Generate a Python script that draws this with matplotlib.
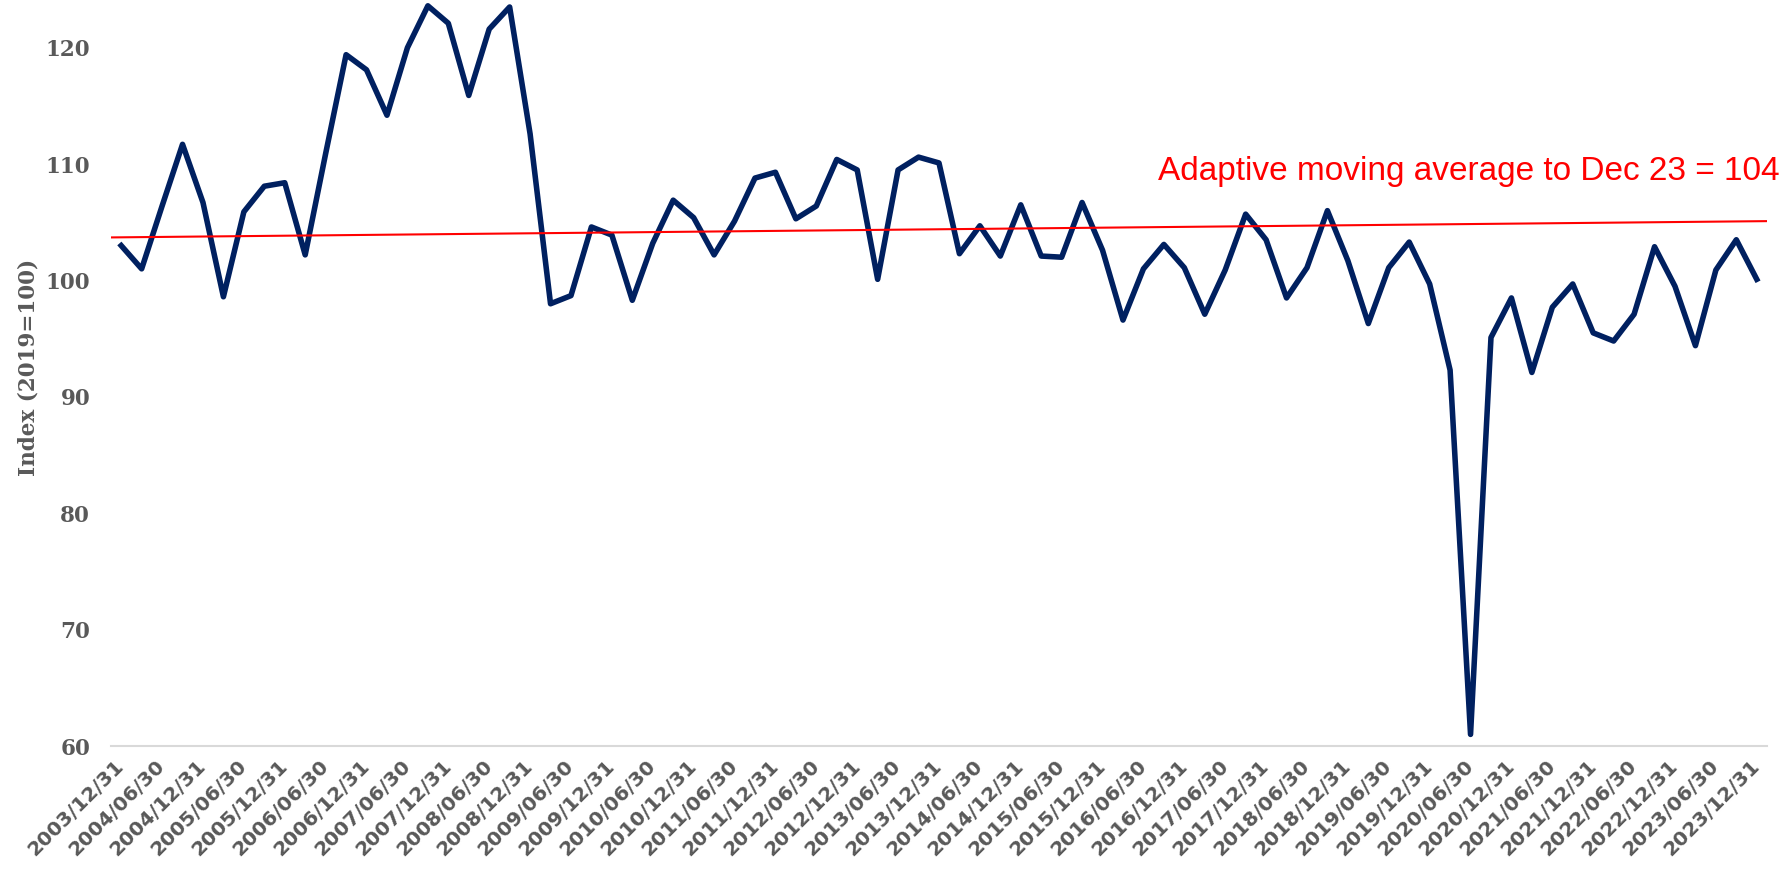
import matplotlib
matplotlib.use("Agg")
import matplotlib.pyplot as plt
import pandas as pd

# quarterly index, 2003Q4 .. 2023Q4 (2019=100)
quarters = pd.date_range("2003-12-31", "2023-12-31", freq="QE")
index_values = [
    103.0, 101.0, 106.4, 111.7, 106.7, 98.6, 105.9, 108.1, 108.4, 102.2,
    110.9, 119.4, 118.1, 114.2, 120.0, 123.6, 122.1, 115.9, 121.6, 123.5,
    112.6, 98.0, 98.7, 104.6, 103.9, 98.3, 103.2, 106.9, 105.4, 102.2,
    105.1, 108.8, 109.3, 105.3, 106.4, 110.4, 109.5, 100.1, 109.5, 110.6,
    110.1, 102.3, 104.7, 102.1, 106.5, 102.1, 102.0, 106.7, 102.6, 96.6,
    101.0, 103.1, 101.1, 97.1, 100.9, 105.7, 103.5, 98.5, 101.1, 106.0,
    101.7, 96.3, 101.1, 103.3, 99.7, 92.3, 61.0, 95.1, 98.5, 92.1,
    97.7, 99.7, 95.5, 94.8, 97.1, 102.9, 99.5, 94.4, 100.9, 103.5,
    100.1,
]
ama_start, ama_end = 103.7, 105.1
ama_text = "Adaptive moving average to Dec 23 = 104"

yticks = [60, 70, 80, 90, 100, 110, 120]

navy = "#002060"
grey = "#595959"

fig = plt.figure(figsize=(17.87, 8.75), dpi=100)
ax = fig.add_axes([0.0621, 0.1474, 0.9267, 0.8526])

n = len(index_values)
x = list(range(n))
ax.plot(x, index_values, color=navy, lw=4.0, solid_joinstyle="round")
ax.plot([-0.5, n - 0.5], [ama_start, ama_end], color="#ff0000", lw=1.5)

ax.set_xlim(-0.5, n - 0.5)
ax.set_ylim(60, 124.1)

for side in ["top", "right", "left"]:
    ax.spines[side].set_visible(False)
ax.spines["bottom"].set_color("#d9d9d9")
ax.spines["bottom"].set_linewidth(1.5)

ax.set_yticks(yticks)
ax.set_yticklabels([str(v) for v in yticks], fontfamily="DejaVu Serif",
                   fontweight="bold", fontsize=15.5, color=grey)
ax.tick_params(axis="y", length=0, pad=15)

tick_pos = x[::2]
ax.set_xticks(tick_pos)
ax.set_xticklabels([d.strftime("%Y/%m/%d") for d in quarters[::2]],
                   rotation=45, ha="right", va="center", rotation_mode="anchor",
                   fontfamily="DejaVu Sans", fontweight="bold", fontsize=14.5,
                   color=grey)
ax.tick_params(axis="x", length=0, pad=12)

ax.set_ylabel("Index (2019=100)", fontfamily="DejaVu Serif",
              fontweight="bold", fontsize=15.5, color=grey)
ax.yaxis.set_label_coords(-0.043, 0.508)

ax.text(1.0079, 0.759, ama_text, transform=ax.transAxes, ha="right",
        va="baseline", color="#ff0000", fontfamily="Liberation Sans",
        fontsize=24, clip_on=False)

fig.savefig("out.png", dpi=100)
